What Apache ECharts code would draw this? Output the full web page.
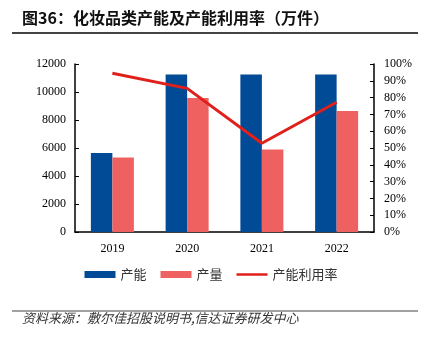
<!DOCTYPE html>
<html>
<head>
<meta charset="utf-8">
<script src="https://cdn.jsdelivr.net/npm/echarts@6/dist/echarts.min.js"></script>
<style>
  html, body { margin: 0; padding: 0; background: #fff; }
  #chart { width: 422px; height: 343px; }
</style>
</head>
<body>
<div id="chart"></div>
<script>
// 化妆品类产能、产量（万件）与产能利用率
var years = ['2019', '2020', '2021', '2022'];
var capacity = [5650, 11250, 11250, 11250];
var output = [5330, 9570, 5900, 8640];
var utilization = [0.945, 0.855, 0.528, 0.772];

var titleText = '图36：化妆品类产能及产能利用率（万件）';
var sourceText = '资料来源：敷尔佳招股说明书,信达证券研发中心';

var serif = '"Liberation Serif", "Times New Roman", serif';
var cjk = '"Noto Sans CJK SC", sans-serif';

// thin horizontal stroke centred in the legend item box (corner dots keep the box height)
var lineIcon = 'path://M0,0L0.01,0L0.01,0.01L0,0.01Z M0,2.3L31,2.3L31,4.7L0,4.7Z M30.99,6.99L31,6.99L31,7L30.99,7Z';

var chart = echarts.init(document.getElementById('chart'), null, { renderer: 'canvas' });

chart.setOption({
  animation: false,
  backgroundColor: '#fff',
  grid: { left: 75, right: 48, top: 64, bottom: 111, containLabel: false },
  legend: {
    bottom: 57,
    left: 'center',
    itemWidth: 31,
    itemHeight: 7,
    itemGap: 14,
    textStyle: { fontFamily: cjk, fontSize: 13, color: '#333' },
    data: [
      { name: '产能', icon: 'rect' },
      { name: '产量', icon: 'rect' },
      { name: '产能利用率', icon: lineIcon, itemStyle: { color: '#E0201B' } }
    ]
  },
  xAxis: {
    type: 'category',
    data: years,
    axisLine: { lineStyle: { color: '#000', width: 1.5 } },
    axisTick: { show: false },
    axisLabel: { fontFamily: serif, fontSize: 12, color: '#000', margin: 11 }
  },
  yAxis: [
    {
      type: 'value',
      min: 0, max: 12000, interval: 2000,
      axisLine: { show: true, lineStyle: { color: '#000', width: 1.5 } },
      axisTick: { show: true, inside: true, length: 4, lineStyle: { color: '#000' } },
      splitLine: { show: false },
      axisLabel: {
        fontFamily: serif, fontSize: 12, color: '#000', margin: 9,
        formatter: function (v) { return String(v); }
      }
    },
    {
      type: 'value',
      min: 0, max: 1, interval: 0.1,
      axisLine: { show: true, lineStyle: { color: '#000', width: 1.5 } },
      axisTick: { show: true, inside: true, length: 4, lineStyle: { color: '#000' } },
      splitLine: { show: false },
      axisLabel: {
        fontFamily: serif, fontSize: 12, color: '#000', margin: 10,
        formatter: function (v) { return Math.round(v * 100) + '%'; }
      }
    }
  ],
  series: [
    {
      name: '产能', type: 'bar', data: capacity,
      barWidth: 21.5, barGap: '0%',
      itemStyle: { color: '#004A96' }
    },
    {
      name: '产量', type: 'bar', data: output,
      barWidth: 21.5,
      itemStyle: { color: '#EF6060' }
    },
    {
      name: '产能利用率', type: 'line', yAxisIndex: 1, data: utilization,
      symbol: 'none',
      lineStyle: { color: '#E0201B', width: 3 },
      itemStyle: { color: '#E0201B' }
    }
  ],
  graphic: [
    {
      type: 'text', left: 22, top: 10,
      style: { text: titleText, font: 'bold 16px ' + cjk, fill: '#111' }
    },
    {
      type: 'line',
      shape: { x1: 12, y1: 33, x2: 418, y2: 33 },
      style: { stroke: '#444', lineWidth: 2 }
    },
    {
      type: 'line',
      shape: { x1: 12, y1: 311, x2: 418, y2: 311 },
      style: { stroke: '#444', lineWidth: 1 }
    },
    {
      type: 'text', left: 22, top: 312,
      style: { text: sourceText, font: 'italic 13px ' + cjk, fill: '#333' }
    }
  ]
});
</script>
</body>
</html>
